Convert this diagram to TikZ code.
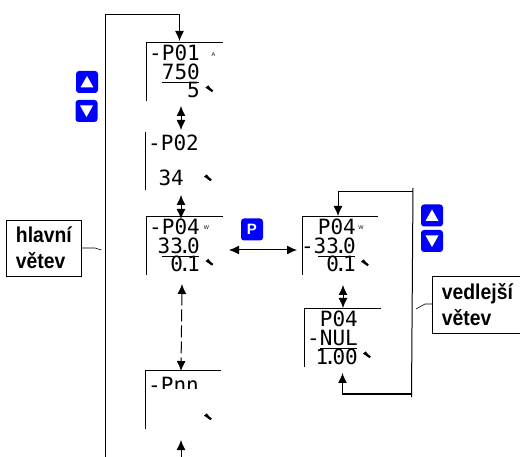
\documentclass[tikz,border=0pt]{standalone}
\usepackage{fontspec}
\setmainfont{Liberation Sans}
\newfontfamily\lcdfont{DejaVu Sans Mono}
\newfontfamily\tagfont[FakeStretch=0.9]{Liberation Sans}
\usetikzlibrary{calc,arrows.meta}
\definecolor{keyblue}{RGB}{0,0,255}
\tikzset{
  >={Latex[length=10pt,width=9pt]},
  lcd/.style={font=\lcdfont\fontsize{21}{21}\selectfont,anchor=base east,inner sep=0pt},
  tiny/.style={font=\fontsize{5.5}{6}\selectfont,inner sep=0pt},
  keybtn/.style={fill=keyblue,rounded corners=3pt,minimum width=22pt,minimum height=22pt,inner sep=0pt,text=white,font=\bfseries\fontsize{15}{15}\selectfont},
  tagbox/.style={draw,line width=0.8pt,align=left,anchor=west,inner xsep=7pt,inner ysep=0pt,font=\tagfont\bfseries\fontsize{21.5}{26}\selectfont},
}
\newcommand{\lcddot}{\kern-4.5pt.\kern-4pt}
% left edge and top edge of a display
\newcommand{\prframe}[2]{\draw[line width=0.8pt] ($(#1)+(0,59)$) -- (#1) -- ($(#1)+(#2,0)$);}
% three lines of a display
\newcommand{\prlines}[4]{
  \node[lcd] (#1a) at ($(#1)+(54,19)$) {#2};
  \node[lcd] (#1b) at ($(#1)+(54,38)$) {#3};
  \node[lcd] (#1c) at ($(#1)+(54,56)$) {#4};
  \draw[line width=0.8pt] ($(#1)+(16,40)$) -- ($(#1)+(53,40)$);
}
\newcommand{\prkey}[1]{\fill ($(#1)+(-4,-1.4)$) -- ($(#1)+(-1.2,-3.6)$) -- ($(#1)+(1,-0.8)$) -- ($(#1)+(3.8,1.4)$) -- ($(#1)+(2.6,3.2)$) -- ($(#1)+(-0.6,1)$) -- cycle;}
\newcommand{\prup}[2]{
  \node[keybtn] (#1) at (#2) {};
  \fill[white] ($(#1)+(-6.5,5.5)$) -- ($(#1)+(6.5,5.5)$) -- ($(#1)+(0,-6)$) -- cycle;
}
\newcommand{\prdown}[2]{
  \node[keybtn] (#1) at (#2) {};
  \fill[white] ($(#1)+(-6.5,-5.5)$) -- ($(#1)+(6.5,-5.5)$) -- ($(#1)+(0,6)$) -- cycle;
}
\begin{document}
\begin{tikzpicture}[x=1pt,y=-1pt]
    \useasboundingbox (0,0) rectangle (520,457);
    \coordinate (Da) at (146,42);
    \coordinate (Db) at (145,132);
    \coordinate (Dc) at (146,216);
    \coordinate (Dd) at (145,370);
    \coordinate (De) at (302,216);
    \coordinate (Df) at (304,308);

    % main branch displays
    \prframe{Da}{77}
    \prlines{Da}{-P01}{750}{5}
    \draw[line width=0.8pt] (Db) -- ($(Db)+(0,58)$);
    \node[lcd] (Dba) at ($(Db)+(54,19)$) {-P02};
    \node[lcd] (Dbb) at ($(Db)+(39,54)$) {34};
    \prframe{Dc}{77}
    \prlines{Dc}{-P04}{33\lcddot0}{0\lcddot1}
    \prframe{Dd}{76}
    \begin{scope}
        \clip ($(Dd)+(0,0)$) rectangle ($(Dd)+(76,19)$);
        \node[lcd] (Dda) at ($(Dd)+(54,22)$) {-Pnn};
    \end{scope}

    % side branch displays
    \prframe{De}{76}
    \prlines{De}{P04}{-33\lcddot0}{0\lcddot1}
    \prframe{Df}{77}
    \prlines{Df}{P04}{-NUL}{1\lcddot00}

    % unit marks
    \node[tiny] (ua) at (213.5,54.5) {A};
    \node[tiny] (ub) at (206.5,228) {W};
    \node[tiny] (uc) at (361,228) {W};
    \prkey{209.5,89}
    \prkey{208,178}
    \prkey{209.5,262.5}
    \prkey{208,417}
    \prkey{365,263}
    \prkey{367,355}

    % arrows between displays
    \coordinate (Aa) at (181,106);
    \coordinate (Ab) at (181,130);
    \coordinate (Ac) at (181,195);
    \coordinate (Ad) at (181,219);
    \coordinate (Ae) at (182,284);
    \coordinate (Af) at (181,371);
    \coordinate (Ag) at (181,440);
    \coordinate (Ah) at (181,457);
    \coordinate (Ai) at (229,250);
    \coordinate (Aj) at (297,250);
    \coordinate (Ak) at (343,285);
    \coordinate (Al) at (343,308);
    \draw[<->,line width=1pt] (Aa) -- (Ab);
    \draw[<->,line width=1pt] (Ac) -- (Ad);
    \draw[<->,line width=1pt,dash pattern=on 12pt off 4pt] (Ae) -- (Af);
    \draw[->,line width=1pt] (Ah) -- (Ag);
    \draw[<->,line width=1pt] (Ai) -- (Aj);
    \draw[<->,line width=1pt] (Ak) -- (Al);

    % main loop
    \coordinate (La) at (105,457);
    \coordinate (Lb) at (105,15);
    \coordinate (Lc) at (179.5,15);
    \coordinate (Ld) at (179.5,41);
    \draw[->,line width=1pt] (La) -- (Lb) -- (Lc) -- (Ld);

    % side loop
    \coordinate (Ra) at (413,188);
    \coordinate (Rb) at (411.5,397);
    \coordinate (Rc) at (338,192);
    \coordinate (Rd) at (338,216);
    \coordinate (Re) at (411.5,394);
    \coordinate (Rf) at (342.5,394);
    \coordinate (Rg) at (342.5,373);
    \draw[line width=1pt] (Ra) -- (Rb);
    \draw[->,line width=1pt] (412.8,192) -- (Rc) -- (Rd);
    \draw[->,line width=1pt] (Re) -- (Rf) -- (Rg);

    % keys
    \prup{Ka}{87,82}
    \prdown{Kb}{86.5,111}
    \node[keybtn] (Kc) at (252,229.5) {P};
    \prup{Kd}{432,215.5}
    \prdown{Ke}{432,241}

    % branch labels
    \node[tagbox,minimum width=75pt,minimum height=56pt] (Ta) at (6,248) {hlavní\\větev};
    \node[tagbox,minimum width=90pt,minimum height=57pt] (Tb) at (432,304.5) {vedlejší\\větev};
    \coordinate (Ta1) at (95,248);
    \coordinate (Ta2) at (101.5,250);
    \coordinate (Tb1) at (425,304);
    \coordinate (Tb2) at (416,309);
    \draw[line width=0.6pt] (Ta.east) -- (Ta1) -- (Ta2);
    \draw[line width=0.6pt] (Tb.west |- Tb1) -- (Tb1) -- (Tb2);
\end{tikzpicture}
\end{document}
